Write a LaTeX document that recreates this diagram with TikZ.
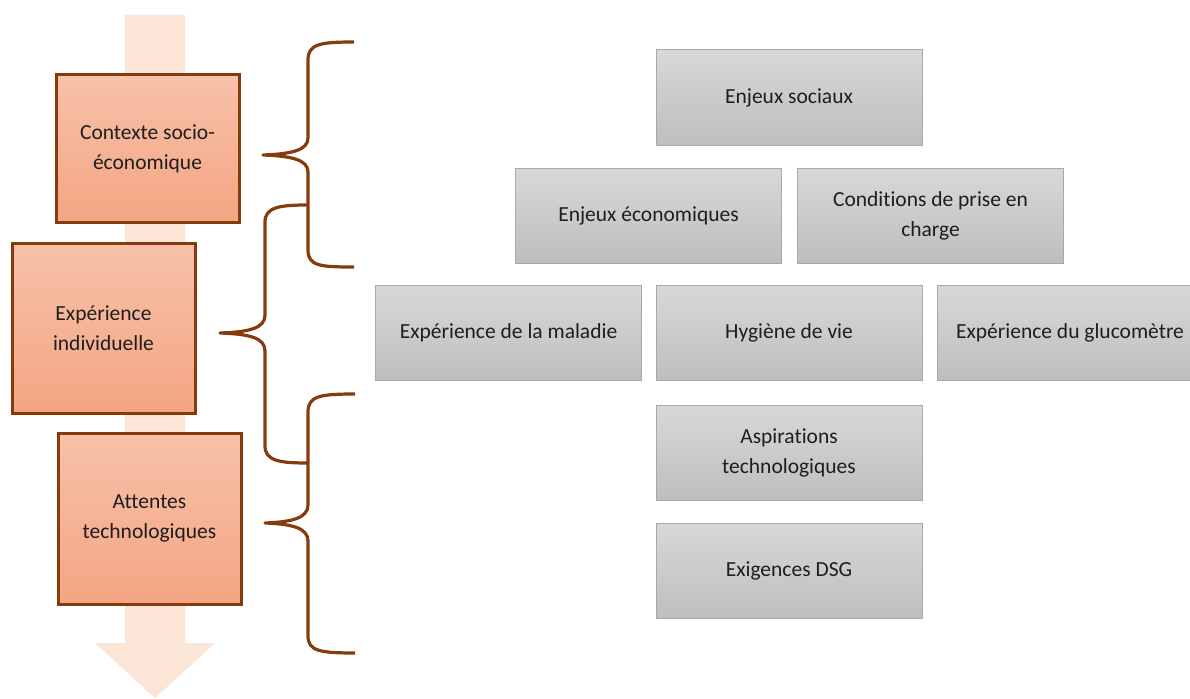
\documentclass[tikz,border=0pt]{standalone}
\usepackage{fontspec}
\setmainfont{Carlito}[Ligatures=NoCommon]
\definecolor{peach}{HTML}{FBE5D6}
\definecolor{brownln}{HTML}{843C0C}
\definecolor{orTop}{HTML}{F7C1A9}
\definecolor{orBot}{HTML}{F4A583}
\definecolor{grTop}{HTML}{D8D8D8}
\definecolor{grBot}{HTML}{BEBEBE}
\definecolor{grLine}{HTML}{A8A8A8}
\definecolor{txt}{HTML}{1E1E1E}
\begin{document}
\begin{tikzpicture}[x=1pt,y=-1pt,
  orbox/.style={rectangle, draw=brownln, line width=3pt, top color=orTop, bottom color=orBot,
    minimum width=183pt, align=center, text=txt, font=\fontsize{21.5}{30}\selectfont, inner sep=0pt},
  grbox/.style={rectangle, draw=grLine, line width=1pt, top color=grTop, bottom color=grBot,
    minimum width=266pt, minimum height=95pt, align=center, text=txt, font=\fontsize{21.5}{30}\selectfont, inner sep=0pt},
  brace/.style={draw=brownln, line width=3.2pt, line join=round}]
\useasboundingbox (0,0) rectangle (1190,698);
% background arrow
\fill[peach] (125,15) -- (185,15) -- (185,643) -- (215,643) -- (155,698) -- (95,643) -- (125,643) -- cycle;
% orange boxes
\node[orbox, minimum height=147pt] (ctx) at (147.5,148.5) {Contexte socio-\\économique};
\node[orbox, minimum height=170pt] (exp) at (103.5,328) {Expérience\\individuelle};
\node[orbox, minimum height=171pt] (att) at (149.5,518.5) {Attentes\\technologiques};
% braces
\coordinate (b1t) at (354,42);
\coordinate (b1b) at (354,267);
\coordinate (b2t) at (308,205);
\coordinate (b2b) at (308,463);
\coordinate (b3t) at (355,394);
\coordinate (b3b) at (355,653);
\draw[brace] (b1t) .. controls (320,42) and (308,44) .. (308,60) -- (308,138)
  .. controls (308,150) and (292,154) .. (263,155)
  .. controls (292,156) and (308,160) .. (308,172) -- (308,250)
  .. controls (308,266) and (320,267) .. (b1b);
\draw[brace] (b2t) .. controls (280,205) and (265,207) .. (265,222) -- (265,315)
  .. controls (265,328) and (250,332) .. (220,333)
  .. controls (250,334) and (265,338) .. (265,351) -- (265,446)
  .. controls (265,461) and (280,463) .. (b2b);
\draw[brace] (b3t) .. controls (320,394) and (308,396) .. (308,412) -- (308,505)
  .. controls (308,518) and (292,522) .. (265,523)
  .. controls (292,524) and (308,528) .. (308,541) -- (308,636)
  .. controls (308,651) and (320,653) .. (b3b);
% gray boxes
\node[grbox] (soc) at (789,97.5) {Enjeux sociaux};
\node[grbox] (eco) at (648.5,215.5) {Enjeux économiques};
\node[grbox] (cond) at (930.5,215.5) {Conditions de prise en\\charge};
\node[grbox] (mal) at (508.5,333) {Expérience de la maladie};
\node[grbox] (hyg) at (789,333) {Hygiène de vie};
\node[grbox] (glu) at (1070,333) {Expérience du glucomètre};
\node[grbox] (asp) at (789,452.5) {Aspirations\\technologiques};
\node[grbox] (dsg) at (789,570.5) {Exigences DSG};
\end{tikzpicture}
\end{document}
